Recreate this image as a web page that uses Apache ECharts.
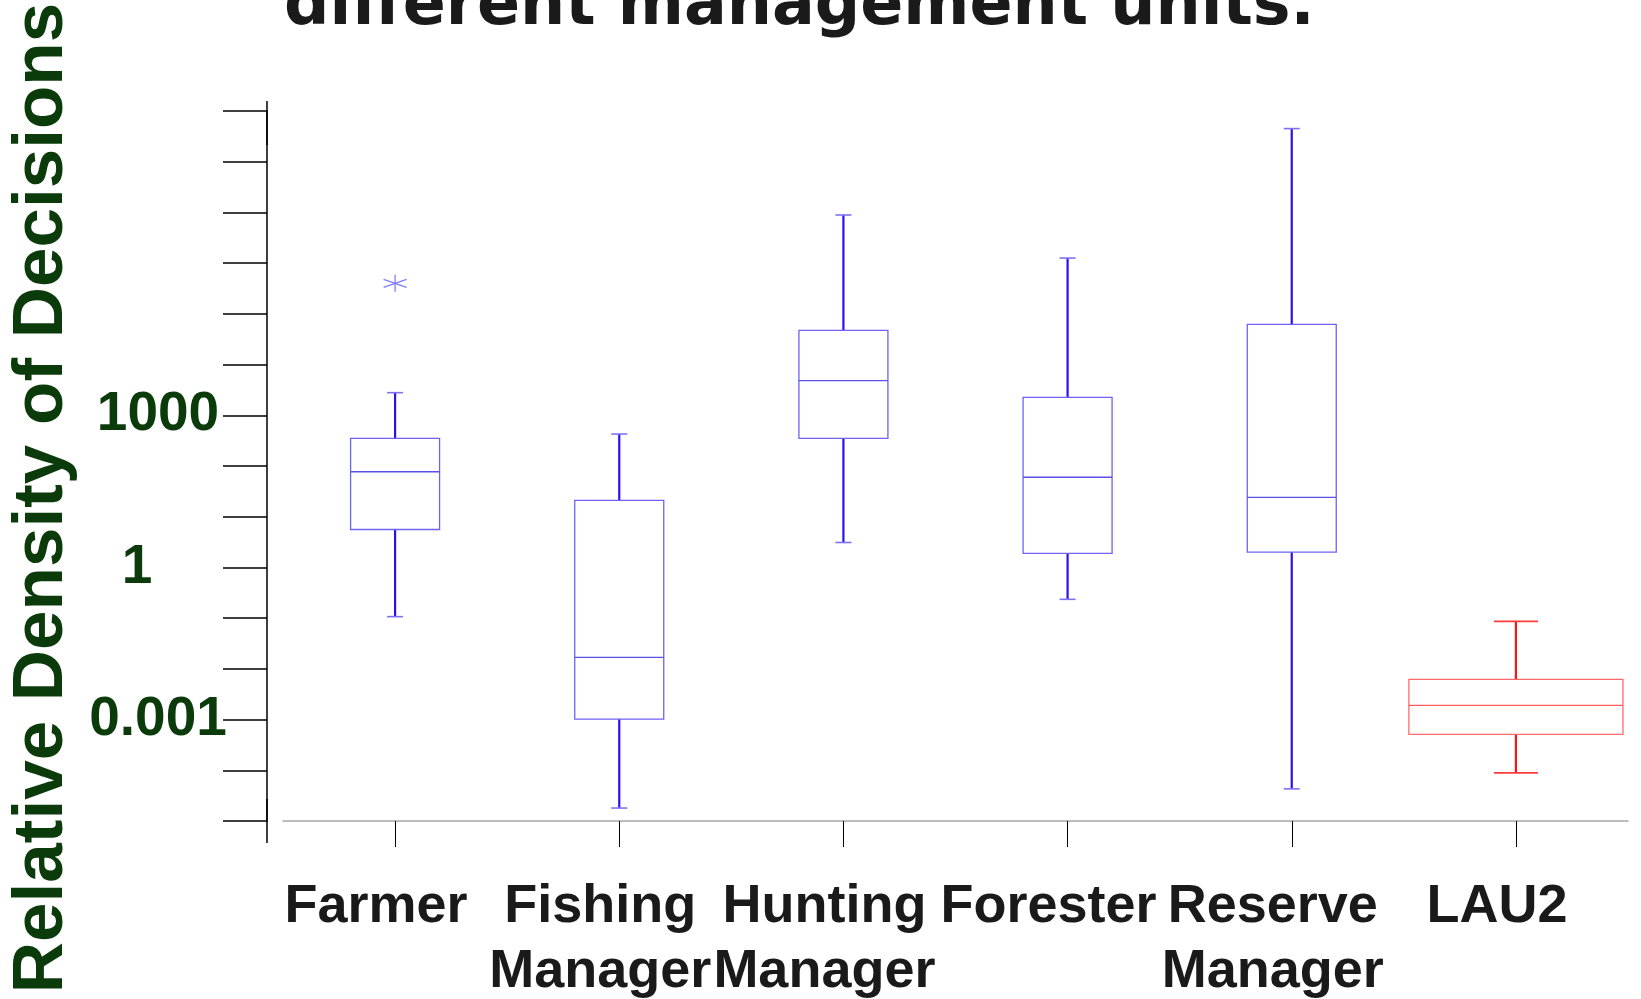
<!DOCTYPE html>
<html>
<head>
<meta charset="utf-8">
<script src="https://cdn.jsdelivr.net/npm/echarts@6/dist/echarts.min.js"></script>
<style>
  html, body { margin: 0; padding: 0; background: #ffffff; }
  #chart { width: 1641px; height: 999px; }
</style>
</head>
<body>
<div id="chart"></div>
<script>
// Management units along the horizontal axis
const categories = ['Farmer', 'Fishing\nManager', 'Hunting\nManager', 'Forester', 'Reserve\nManager', 'LAU2'];

// Box statistics of the relative density of decisions for each unit
const whiskerLow  = [0.107, 1.8e-5, 3.1, 0.235, 4.3e-5, 8.9e-5];
const quartile1   = [5.6, 0.00102, 352, 1.9, 2.0, 5.1e-4];
const median      = [77, 0.0169, 4810, 60, 24, 0.0019];
const quartile3   = [352, 21, 4.73e4, 2260, 6.2e4, 0.0062];
const whiskerHigh = [2790, 427, 8.9e6, 1.26e6, 4.5e8, 0.0865];

// Outlying observations
const outlierUnit  = ['Farmer'];
const outlierValue = [4.0e5];

// Labelled ticks of the density axis
const yTickValues = [0.001, 1, 1000];
const yTickLabels = ['0.001', '1', '1000'];

// The local administrative unit is drawn apart from the other units
const highlightUnit = 'LAU2';

const BLUE = {
  boxRatio: 0.397, capWidth: 16,
  whisker: '#2a10ec', whiskerWidth: 2.2, cap: '#7d72f7',
  box: '#6f62f3', boxLine: 1.3, median: '#5b4fe6'
};
const RED = {
  boxRatio: 0.955, capWidth: 44,
  whisker: '#ff1414', whiskerWidth: 2.2, cap: '#ff3c3c',
  box: '#ff6a6a', boxLine: 1.3, median: '#ff5a5a'
};

function boxRows(keep) {
  const rows = [];
  categories.forEach(function (c, i) {
    if (keep(c)) {
      rows.push([c, whiskerLow[i], quartile1[i], median[i], quartile3[i], whiskerHigh[i]]);
    }
  });
  return rows;
}

function boxRenderer(look) {
  return function (params, api) {
    const x = api.value(0);
    const band = api.size([1, 1], [x, 1])[0];
    const half = band * look.boxRatio / 2;
    const cap = look.capWidth / 2;
    const lo = api.coord([x, api.value(1)]);
    const q1 = api.coord([x, api.value(2)]);
    const md = api.coord([x, api.value(3)]);
    const q3 = api.coord([x, api.value(4)]);
    const hi = api.coord([x, api.value(5)]);
    const cx = md[0];
    const whiskerStyle = { stroke: look.whisker, lineWidth: look.whiskerWidth };
    const capStyle = { stroke: look.cap, lineWidth: 1.6 };
    return {
      type: 'group',
      children: [
        { type: 'line', shape: { x1: cx, y1: q3[1], x2: cx, y2: hi[1] }, style: whiskerStyle },
        { type: 'line', shape: { x1: cx, y1: q1[1], x2: cx, y2: lo[1] }, style: whiskerStyle },
        { type: 'line', shape: { x1: cx - cap, y1: hi[1], x2: cx + cap, y2: hi[1] }, style: capStyle },
        { type: 'line', shape: { x1: cx - cap, y1: lo[1], x2: cx + cap, y2: lo[1] }, style: capStyle },
        { type: 'rect', shape: { x: cx - half, y: q3[1], width: half * 2, height: q1[1] - q3[1] },
          style: { stroke: look.box, lineWidth: look.boxLine, fill: 'rgba(255,255,255,0)' } },
        { type: 'line', shape: { x1: cx - half, y1: md[1], x2: cx + half, y2: md[1] },
          style: { stroke: look.median, lineWidth: look.boxLine } }
      ]
    };
  };
}

// Asterisk marker for outliers
function starRenderer(params, api) {
  const p = api.coord([api.value(0), api.value(1)]);
  const st = { stroke: '#7f7bff', lineWidth: 1.3 };
  return {
    type: 'group',
    children: [
      { type: 'line', shape: { x1: p[0], y1: p[1] - 8.5, x2: p[0], y2: p[1] + 8.5 }, style: st },
      { type: 'line', shape: { x1: p[0] - 11.5, y1: p[1] - 4, x2: p[0] + 11.5, y2: p[1] + 4 }, style: st },
      { type: 'line', shape: { x1: p[0] - 11.5, y1: p[1] + 4, x2: p[0] + 11.5, y2: p[1] - 4 }, style: st }
    ]
  };
}

const GREEN = '#0b3a0b';
const LABEL_FONT = '"Liberation Sans", Arial, Helvetica, sans-serif';

const chart = echarts.init(document.getElementById('chart'), null, { renderer: 'canvas' });

chart.setOption({
  backgroundColor: '#ffffff',
  animation: false,
  title: {
    text: 'different management units.',
    left: 284,
    top: -24,
    padding: 0,
    textStyle: {
      fontFamily: '"DejaVu Sans", Verdana, sans-serif',
      fontWeight: 'bold',
      fontSize: 63.5,
      lineHeight: 63,
      color: '#1a1a1a'
    }
  },
  grid: { left: 283, right: 13, top: 111, bottom: 178, containLabel: false, outerBoundsMode: 'none' },
  xAxis: {
    type: 'category',
    data: categories,
    boundaryGap: true,
    axisLine: { show: true, lineStyle: { color: '#a8a8a8', width: 1.5 } },
    axisTick: { show: true, alignWithLabel: true, length: 26, lineStyle: { color: '#000000', width: 1 } },
    axisLabel: {
      interval: 0,
      margin: 54,
      fontFamily: LABEL_FONT,
      fontWeight: 'bold',
      fontSize: 54,
      lineHeight: 65,
      color: '#1a1a1a',
      padding: [0, 38, 0, 0]
    },
    splitLine: { show: false }
  },
  yAxis: {
    type: 'log',
    logBase: 10,
    min: 1e-5,
    max: 1e9,
    interval: 1,
    splitNumber: 14,
    offset: 16,
    name: 'Relative Density of Decisions',
    nameLocation: 'middle',
    nameRotate: 90,
    nameGap: 188,
    nameTextStyle: {
      fontFamily: LABEL_FONT,
      fontWeight: 'bold',
      fontSize: 71,
      lineHeight: 71,
      color: GREEN,
      padding: [0, 64, 0, 0]
    },
    axisLine: {
      show: true,
      lineStyle: { color: '#000000', width: 1.5 },
      symbol: ['rect', 'rect'],
      symbolSize: [1.5, 44],
      symbolOffset: [0, -12]
    },
    axisTick: { show: true, length: 44, lineStyle: { color: '#000000', width: 1.5 } },
    splitLine: { show: false },
    minorTick: { show: false },
    axisLabel: {
      margin: 109,
      align: 'center',
      fontFamily: LABEL_FONT,
      fontWeight: 'bold',
      fontSize: 55,
      color: GREEN,
      formatter: function (v) {
        const e = Math.round(Math.log10(v));
        const i = yTickValues.findIndex(function (t) { return Math.round(Math.log10(t)) === e; });
        if (i < 0) return '';
        const txt = yTickLabels[i];
        // single digits sit a little left of the other labels
        return txt.length === 1 ? '{lone|' + txt + '}' : txt;
      },
      rich: {
        lone: {
          fontFamily: LABEL_FONT,
          fontWeight: 'bold',
          fontSize: 55,
          color: GREEN,
          padding: [0, 42, 0, 0]
        }
      }
    }
  },
  series: [
    {
      name: 'Management units',
      type: 'custom',
      renderItem: boxRenderer(BLUE),
      encode: { x: 0, y: [1, 2, 3, 4, 5] },
      data: boxRows(function (c) { return c !== highlightUnit; }),
      z: 3
    },
    {
      name: highlightUnit,
      type: 'custom',
      renderItem: boxRenderer(RED),
      encode: { x: 0, y: [1, 2, 3, 4, 5] },
      data: boxRows(function (c) { return c === highlightUnit; }),
      z: 3
    },
    {
      name: 'Outliers',
      type: 'custom',
      renderItem: starRenderer,
      encode: { x: 0, y: 1 },
      data: outlierUnit.map(function (u, i) { return [u, outlierValue[i]]; }),
      z: 4
    }
  ]
});
</script>
</body>
</html>
